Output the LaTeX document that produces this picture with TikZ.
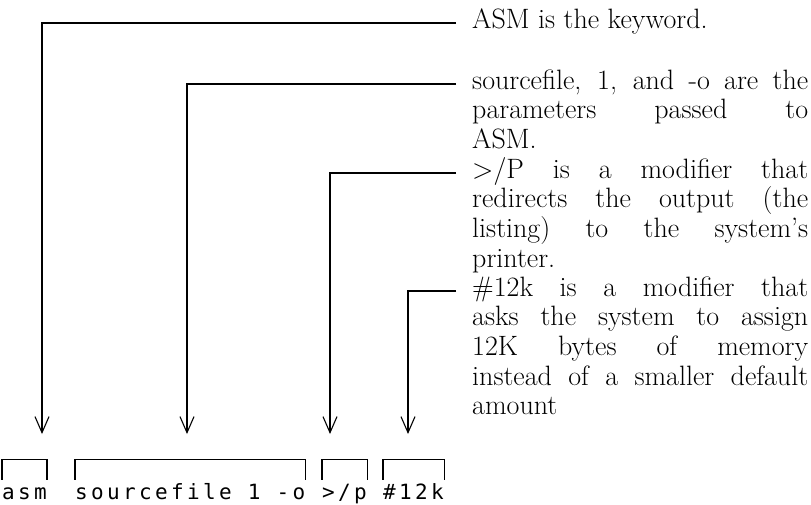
\documentclass[tikz,border=0pt]{standalone}
\usepackage{fontspec}
\newfontfamily\dotfont[LetterSpace=16]{DejaVu Sans Mono}
\usetikzlibrary{arrows.meta}

\tikzset{
  leader/.style={line width=1.1pt, -{Straight Barb[length=16pt,width=14pt,line width=1.1pt]}},
  desc/.style={anchor=north west, inner sep=0pt, text width=336pt, align=justify,
    font=\fontsize{28}{29.6}\selectfont},
  token/.style={anchor=base west, inner sep=0pt, text height=15pt, text depth=4pt,
    font=\fontsize{21}{21}\dotfont},
  bracket/.style={line width=1.1pt}
}
\newcommand{\firstline}{\rule{0pt}{21pt}}

\begin{document}
\begin{tikzpicture}[x=1pt,y=-1pt]
  \useasboundingbox (0,0) rectangle (811,504);

  % Command line
  \node[token] (asm) at (2,499) {asm};
  \node[token] (src) at (75,499) {sourcefile 1 -o};
  \node[token] (redir) at (322,499) {>/p};
  \node[token] (mem) at (383,499) {\#12k};

  % Brackets over the parts
  \foreach \part in {asm,src,redir,mem} {
    \draw[bracket] ([yshift=4pt]\part.north west) -- ++(0,-20) -| ([yshift=4pt]\part.north east);
  }

  % Descriptions
  \node[desc] (kw) at (472,7) {\firstline ASM is the keyword.};
  \node[desc] (params) at (472,68) {\firstline sourcefile, 1, and -o are the\linebreak
    parameters passed to\linebreak ASM.};
  \node[desc] (redirect) at (472,157) {\firstline >/P is a modifier that\linebreak
    redirects the output (the\linebreak listing) to the system's\linebreak printer.};
  \node[desc] (memory) at (472,275) {\firstline \#12k is a modifier that\linebreak
    asks the system to assign\linebreak 12K bytes of memory\linebreak
    instead of a smaller default\linebreak amount};

  % Arrow tips above the brackets
  \coordinate (kw-tip) at (42,434);
  \coordinate (params-tip) at (187,434);
  \coordinate (redirect-tip) at (330,434);
  \coordinate (memory-tip) at (408,434);

  % Leaders
  \foreach \desc in {kw,params,redirect,memory} {
    \draw[leader] ([xshift=-16pt,yshift=-16pt]\desc.north west) -| (\desc-tip);
  }
\end{tikzpicture}
\end{document}
